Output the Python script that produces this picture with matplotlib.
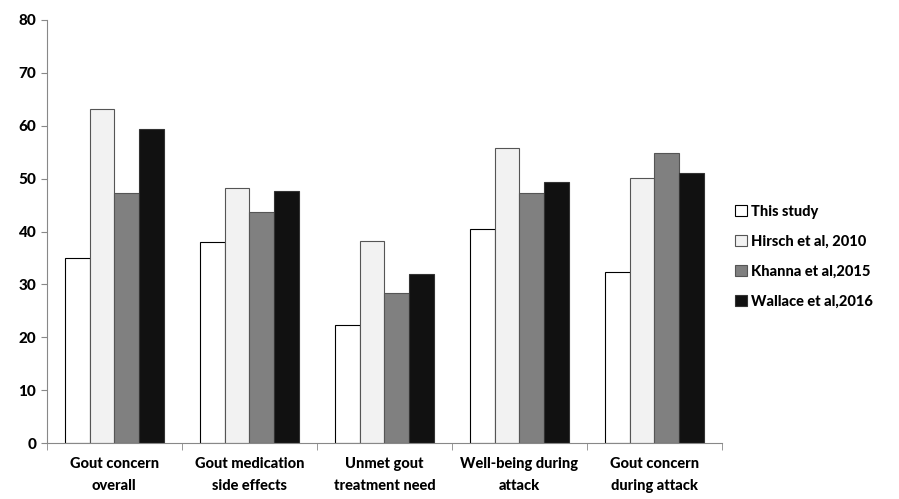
import numpy as np
import matplotlib.pyplot as plt

plt.rcParams['font.family'] = ['Lato', 'DejaVu Sans']
plt.rcParams['font.weight'] = 'black'

#categories and series
categories = ['Gout concern\noverall', 'Gout medication\nside effects', 'Unmet gout\ntreatment need',
              'Well-being during\nattack', 'Gout concern\nduring attack']
this_study = [35.0, 38.0, 22.3, 40.5, 32.4]
hirsch = [63.2, 48.3, 38.3, 55.8, 50.2]
khanna = [47.2, 43.6, 28.3, 47.3, 54.8]
wallace = [59.3, 47.7, 32.0, 49.4, 51.0]
labels = ['This study', 'Hirsch et al, 2010', 'Khanna et al,2015', 'Wallace et al,2016']

series = [this_study, hirsch, khanna, wallace]
colors = ['white', '#f2f2f2', '#808080', '#111111']
edges = ['#000000', '#555555', '#555555', '#333333']

fig = plt.figure(figsize=(8.99, 4.99), dpi=100)
ax = fig.add_axes([0.052, 0.112, 0.751, 0.848])

x = np.arange(len(categories))
w = 0.183
for i in range(4):
    ax.bar(x + (i - 1.5) * w, series[i], w, color=colors[i], edgecolor=edges[i],
           linewidth=0.8, label=labels[i])

ax.set_xlim(-0.5, len(categories) - 0.5)
ax.set_ylim(0, 80)
ax.set_yticks(range(0, 81, 10))
ax.set_xticks(x)
ax.set_xticklabels(categories, fontsize=10.5, fontweight='black', linespacing=1.75)
ax.tick_params(axis='x', length=0, pad=10)
ax.set_xticks(np.arange(-0.5, len(categories), 1), minor=True)
ax.tick_params(axis='x', which='minor', length=5, color='#888888')
ax.tick_params(axis='y', length=4, color='#888888', labelsize=11)
for t in ax.get_yticklabels():
    t.set_fontweight('black')

for s in ['top', 'right']:
    ax.spines[s].set_visible(False)
ax.spines['left'].set_color('#888888')
ax.spines['bottom'].set_color('#888888')

ax.legend(loc='center left', bbox_to_anchor=(1.0, 0.44), frameon=False,
          prop={'size': 10.5, 'weight': 'black'}, handlelength=0.8, handleheight=0.8,
          handletextpad=0.3, labelspacing=1.1)

plt.savefig('out.png', dpi=100)
